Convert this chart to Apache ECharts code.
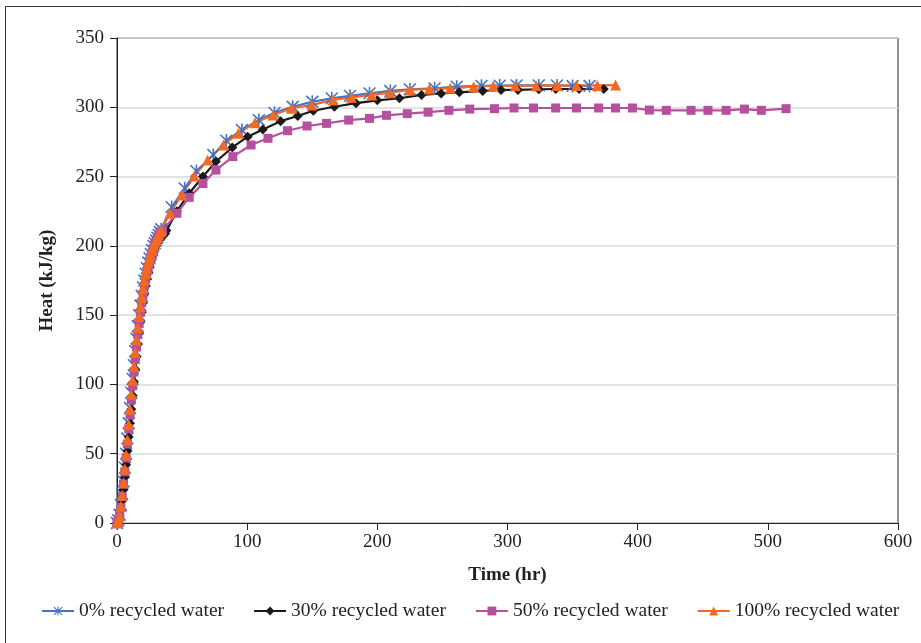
<!DOCTYPE html>
<html>
<head>
<meta charset="utf-8">
<script src="https://cdn.jsdelivr.net/npm/echarts@6/dist/echarts.min.js"></script>
<style>
html,body{margin:0;padding:0;background:#fff;}
#c{width:921px;height:643px;}
</style>
</head>
<body>
<div id="c"></div>
<script>
// ---- Data ----
var seriesNames = ['0% recycled water', '30% recycled water', '50% recycled water', '100% recycled water'];
var xTicks = [0, 100, 200, 300, 400, 500, 600];
var yTicks = [0, 50, 100, 150, 200, 250, 300, 350];

var time0 = [0,1,2,3,4,5,6,7,8,9,10,11,12,13,14,15,16,17,18,19,20,21,22,23,24,25,26,27,28,29,30,31,32,33,34,
  42,52,61,74,84,96,109,121,135,150,165,179,194,210,225,244,261,280,294,307,324,338,350,363];
var heat0 = [0,2,6,13,21,30,40,50,61,72,83,94,104,114,124,133,142,150,157,164,170,175,180,184,188,191,194,197,200,202,204,206,208,210,212,
  228,241.5,254,265.6,276,283.6,290.8,296,300.4,304,306.5,308.2,310,311.8,313,313.7,314.9,315.5,315.7,315.8,315.8,315.8,315.4,315.4];

var time30 = [0,1,2,3,4,5,6,7,8,9,10,11,12,13,14,15,16,17,18,19,20,21,22,23,24,25,26,27,28,29,30,31,32,33,34,35,36,37,38,
  46,55.5,66,76,88.6,100.4,112,125.7,138.8,150.8,167,183.6,200,217,234,249,263,281,295,308,324,337,355,374];
var heat30 = [0,1,4,9,16,24,33,42,52,62,72,82,92,102,111,120,129,137,145,152,159,165,171,176,181,185,189,192,195,198,200,202,204,205,206,207,208,209,211,
  225,238,250,260.8,271,278.8,284,290,293.7,297.5,300.4,303,305,306.5,308.9,310,310.8,311.8,312.5,312.5,313,313.2,313.2,313.2];

var time50 = [0,1,2,3,4,5,6,7,8,9,10,11,12,13,14,15,16,17,18,19,20,21,22,23,24,25,26,27,28,29,30,31,32,33,34,35,
  46,55.5,66,76,89,103,116,131,146,161,178,194,207,223,239,255,271,290,305,320,337,353,370,383,396,409,422,441,454,468,482,495,514];
var heat50 = [0,2,5,11,19,28,37,47,57,68,78,89,99,109,118,127,136,144,152,159,165,171,176,181,185,189,192,195,198,201,203,205,207,209,210,211,
  223.5,235,245,254.7,264.4,272.8,277.6,283.1,286.5,288.4,290.8,292,294.2,295.4,296.5,297.8,298.7,299,299.5,299.5,299.5,299.5,299.5,299.5,299.5,298,297.8,297.8,297.8,297.8,298.7,297.8,299];

var time100 = [0,1,2,3,4,5,6,7,8,9,10,11,12,13,14,15,16,17,18,19,20,21,22,23,24,25,26,27,28,29,30,31,32,33,34,
  40.7,49.7,59.4,69.6,81.7,93.2,106,120,134.2,149.6,166,180,195.7,209.7,225,240,256,274,289,306,322,338,353,369,383];
var heat100 = [0,1,5,12,20,29,39,49,60,71,82,93,103,113,123,132,141,149,156,163,169,175,180,184,188,191,194,197,200,202,204,206,208,210,211,
  223.5,236.7,250.4,262,272.8,281.2,288.9,294.4,299.3,301.7,305.3,307.2,308.9,310.5,312.5,313.2,313.7,314.9,315.4,315.5,315.6,315.7,315.8,315.8,316];

function pairs(t, h) { var out = []; for (var i = 0; i < t.length; i++) out.push([t[i], h[i]]); return out; }

var colors = ['#4472C4', '#1a1a1a', '#B5509F', '#F26A22'];
var starPath = 'path://M4.4 0L5.6 0L5.6 10L4.4 10Z M0.92 0.08L9.92 9.08L9.08 9.92L0.08 0.92Z M9.08 0.08L9.92 0.92L0.92 9.92L0.08 9.08Z';
var symbols = [starPath, 'diamond', 'rect', 'triangle'];
var symbolSizes = [13, 10, 9, 11];
var dataSets = [pairs(time0, heat0), pairs(time30, heat30), pairs(time50, heat50), pairs(time100, heat100)];

var font = '"Liberation Serif", "DejaVu Serif", serif';

var chart = echarts.init(document.getElementById('c'), null, {renderer: 'canvas'});
var series = seriesNames.map(function (name, i) {
  return {
    name: name,
    type: 'line',
    data: dataSets[i],
    symbol: symbols[i],
    symbolSize: symbolSizes[i],
    showAllSymbol: true,
    smooth: false,
    lineStyle: {color: colors[i], width: 2.2},
    itemStyle: {color: colors[i]},
    emphasis: {disabled: true},
    animation: false
  };
});

chart.setOption({
  animation: false,
  backgroundColor: '#fff',
  graphic: [{
    type: 'rect',
    shape: {x: 5.5, y: 6.5, width: 940, height: 660},
    style: {fill: 'none', stroke: '#333', lineWidth: 1},
    silent: true
  }],
  grid: {left: 117, right: 23, top: 38, bottom: 120, show: true, borderColor: '#222', borderWidth: 1, backgroundColor: 'transparent'},
  legend: {
    data: seriesNames,
    left: 36,
    top: 596,
    itemWidth: 32,
    itemHeight: 11,
    itemGap: 29,
    textStyle: {fontFamily: font, fontSize: 19.5, color: '#222'}
  },
  xAxis: {
    type: 'value',
    min: xTicks[0],
    max: xTicks[xTicks.length - 1],
    interval: 100,
    name: 'Time (hr)',
    nameLocation: 'middle',
    nameGap: 43,
    nameTextStyle: {fontFamily: font, fontSize: 19, fontWeight: 'bold', color: '#222'},
    axisLine: {show: true, lineStyle: {color: '#222', width: 1}},
    axisTick: {show: true, length: 7, lineStyle: {color: '#222'}},
    axisLabel: {fontFamily: font, fontSize: 19, color: '#222', margin: 10},
    splitLine: {show: false}
  },
  yAxis: {
    type: 'value',
    min: yTicks[0],
    max: yTicks[yTicks.length - 1],
    interval: 50,
    name: 'Heat (kJ/kg)',
    nameLocation: 'middle',
    nameGap: 60,
    nameTextStyle: {fontFamily: font, fontSize: 19, fontWeight: 'bold', color: '#222'},
    axisLine: {show: true, lineStyle: {color: '#222', width: 1}},
    axisTick: {show: true, length: 7, lineStyle: {color: '#222'}},
    axisLabel: {fontFamily: font, fontSize: 19, color: '#222', margin: 13},
    splitLine: {show: true, lineStyle: {color: '#d9d9d9', width: 1.5}}
  },
  series: series
});
</script>
</body>
</html>
